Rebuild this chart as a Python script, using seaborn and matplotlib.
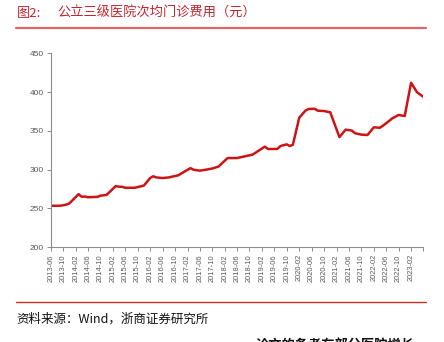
import pandas as pd
import seaborn as sns
import matplotlib
matplotlib.use("Agg")
import matplotlib.pyplot as plt

# 公立三级医院次均门诊费用（元）
months = [
    "2013-06", "2013-09", "2013-11", "2013-12", "2014-03", "2014-04", "2014-05",
    "2014-06", "2014-09", "2014-10", "2014-12", "2015-03", "2015-04", "2015-05",
    "2015-06", "2015-09", "2015-12", "2016-02", "2016-03", "2016-04", "2016-06",
    "2016-08", "2016-11", "2017-03", "2017-04", "2017-06", "2017-08", "2017-10",
    "2017-12", "2018-03", "2018-06", "2018-11", "2019-03", "2019-04", "2019-07",
    "2019-08", "2019-10", "2019-11", "2019-12", "2020-02", "2020-04", "2020-05",
    "2020-07", "2020-08", "2020-10", "2020-12", "2021-03", "2021-05", "2021-07",
    "2021-08", "2021-10", "2021-12", "2022-02", "2022-04", "2022-05", "2022-07",
    "2022-08", "2022-10", "2022-12", "2023-02", "2023-04", "2023-06",
]
fees = [
    253.5, 253.5, 255.0, 256.5, 268.5, 265.0, 265.5,
    264.5, 265.0, 266.5, 267.5, 279.0, 278.0, 278.0,
    276.7, 276.7, 279.5, 289.3, 291.5, 290.0, 289.3,
    290.0, 292.7, 302.0, 300.0, 298.7, 300.0, 301.5,
    304.0, 315.0, 315.0, 319.4, 329.7, 326.7, 326.7,
    330.5, 332.7, 330.5, 332.3, 367.0, 376.0, 378.2,
    378.5, 376.0, 375.6, 374.0, 342.0, 351.6, 350.4,
    347.0, 345.2, 344.7, 354.6, 354.0, 356.7, 362.8,
    366.2, 370.5, 369.2, 412.0, 399.7, 394.0,
]
y_ticks = [200, 250, 300, 350, 400, 450]

df = pd.DataFrame({"month": pd.to_datetime(months), "fee": fees})

sns.set_style("white")
plt.rcParams["font.family"] = ["Liberation Sans", "Noto Sans CJK SC", "DejaVu Sans"]

fig = plt.figure(figsize=(4.44, 3.42), dpi=100)
ax = fig.add_axes([0.1142, 0.2769, 0.8392, 0.5673])

sns.lineplot(data=df, x="month", y="fee", ax=ax, color="#cc1414", linewidth=1.8)

# x axis: a tick every four months, labelled as YYYY-MM
tick_dates = pd.date_range("2013-06-01", "2023-06-01", freq="4MS")
ax.set_xlim(tick_dates[0], tick_dates[-1])
ax.set_xticks(tick_dates)
ax.set_xticklabels([d.strftime("%Y-%m") if i < len(tick_dates) - 1 else ""
                    for i, d in enumerate(tick_dates)],
                   rotation=90, fontsize=5.4, color="#595959")
ax.set_ylim(200, 450)
ax.set_yticks(y_ticks)
ax.set_yticklabels([str(v) for v in y_ticks], fontsize=6.0, color="#595959")
ax.set_xlabel("")
ax.set_ylabel("")

for side in ("top", "right"):
    ax.spines[side].set_visible(False)
for side in ("left", "bottom"):
    ax.spines[side].set_color("#8c8c8c")
    ax.spines[side].set_linewidth(0.8)
ax.tick_params(axis="both", which="major", direction="out", length=3,
               width=0.7, color="#8c8c8c", pad=2, bottom=True, left=True)

# header and footer
cjk = ["Noto Sans CJK SC", "DejaVu Sans"]
fig.text(17 / 444, 1 - 13 / 342, "图2:", fontsize=9.5, color="#c0262d",
         va="center", ha="left", family=cjk)
fig.text(57 / 444, 1 - 13 / 342, "公立三级医院次均门诊费用（元）",
         fontsize=9.5, color="#c0262d", va="center", ha="left", family=cjk)
fig.add_artist(plt.Line2D([16 / 444, 426 / 444], [1 - 28 / 342, 1 - 28 / 342],
                          color="#e06666", linewidth=1.6, transform=fig.transFigure))
fig.add_artist(plt.Line2D([16 / 444, 426 / 444], [1 - 302 / 342, 1 - 302 / 342],
                          color="#d42a2a", linewidth=1.0, transform=fig.transFigure))
fig.text(16 / 444, 1 - 319 / 342, "资料来源：Wind，浙商证券研究所",
         fontsize=9, color="#111111", va="center", ha="left", family=cjk)
fig.text(256 / 444, 1 - 346 / 342, "论文的备考在部分医院增长",
         fontsize=9.5, color="#111111", va="center", ha="left", weight="bold",
         family=cjk)

fig.savefig("out.png", dpi=100)
